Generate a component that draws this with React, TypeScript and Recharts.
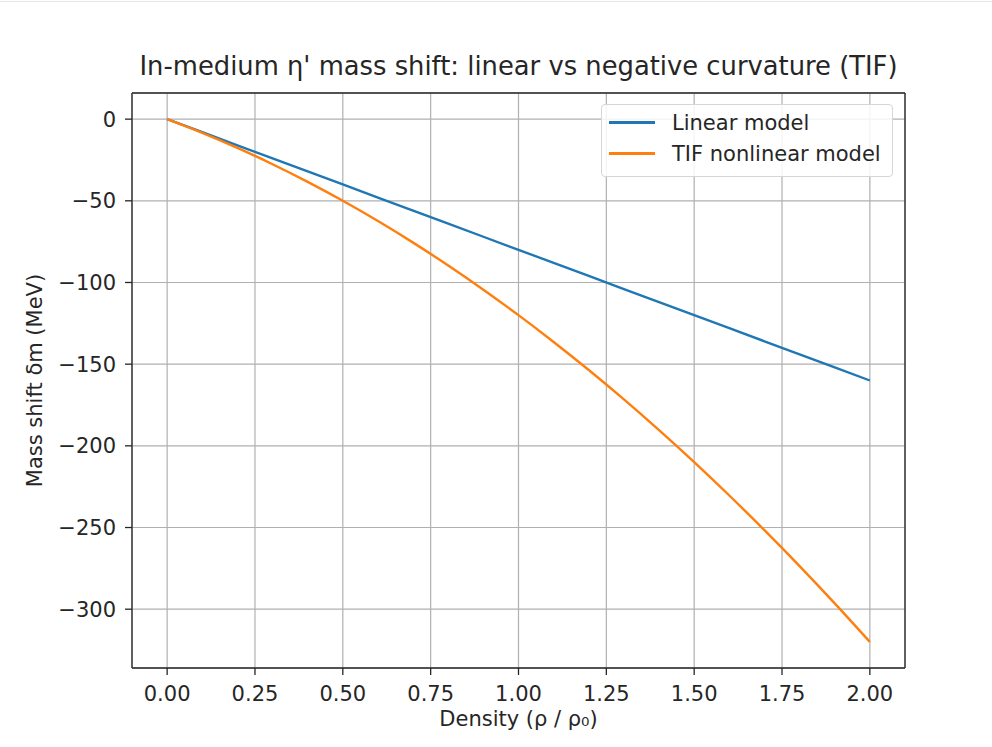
import React from "react";
import { LineChart, Line, XAxis, YAxis, CartesianGrid, Legend, ReferenceLine, Label } from "recharts";

const density = [0, 0.1, 0.2, 0.3, 0.4, 0.5, 0.6, 0.7, 0.8, 0.9, 1.0, 1.1, 1.2, 1.3, 1.4, 1.5, 1.6, 1.7, 1.8, 1.9, 2.0];
const linearShift = [0, -8, -16, -24, -32, -40, -48, -56, -64, -72, -80, -88, -96, -104, -112, -120, -128, -136, -144, -152, -160];
const tifShift = [0, -8.4, -17.6, -27.6, -38.4, -50, -62.4, -75.6, -89.6, -104.4, -120, -136.4, -153.6, -171.6, -190.4, -210, -230.4, -251.6, -273.6, -296.4, -320];

const xTicks = [0, 0.25, 0.5, 0.75, 1.0, 1.25, 1.5, 1.75, 2.0];
const yTicks = [-300, -250, -200, -150, -100, -50, 0];

const data = density.map((d, i) => ({ rho: d, linear: linearShift[i], tif: tifShift[i] }));

const FONT = "'DejaVu Sans', sans-serif";
const TICK = { fill: "#262626", fontSize: 21, fontFamily: FONT };

function LegendBox({ payload }: any) {
  return (
    <div
      style={{
        background: "rgba(255,255,255,0.85)",
        border: "1px solid #d6d6d6",
        borderRadius: 4,
        padding: "2px 10px 7px 7px",
        fontFamily: FONT,
        fontSize: 21,
        color: "#262626",
        boxSizing: "border-box",
      }}
    >
      {(payload || []).map((p: any) => (
        <div key={p.value} style={{ display: "flex", alignItems: "center", height: 31 }}>
          <span style={{ display: "inline-block", width: 46, height: 2.5, background: p.color, marginRight: 17 }} />
          <span>{p.value}</span>
        </div>
      ))}
    </div>
  );
}

export default function App() {
  return (
    <div style={{ position: "absolute", left: 0, top: 0, width: 992, height: 747, background: "#fff" }}>
      <div style={{ position: "absolute", left: 0, top: 1, width: 992, height: 1, background: "#e6e6e6" }} />
      <div
        style={{
          position: "absolute",
          left: 132,
          width: 773,
          top: 51,
          textAlign: "center",
          fontFamily: FONT,
          fontSize: 25.8,
          color: "#262626",
          whiteSpace: "nowrap",
        }}
      >
        In-medium η' mass shift: linear vs negative curvature (TIF)
      </div>
      <LineChart width={992} height={747} data={data} margin={{ top: 93, right: 87, left: 32, bottom: 39 }}>
        <CartesianGrid stroke="#b0b0b0" strokeWidth={1.2} />
        <XAxis
          dataKey="rho"
          type="number"
          domain={[-0.1, 2.1]}
          ticks={xTicks}
          allowDataOverflow
          tickFormatter={(v: number) => v.toFixed(2)}
          tick={TICK}
          tickSize={7}
          tickMargin={11}
          height={40}
          stroke="#262626"
          strokeWidth={1.3}
        >
          <Label
            content={({ viewBox }: any) => (
              <text
                x={viewBox.x + viewBox.width / 2}
                y={726}
                textAnchor="middle"
                fontFamily={FONT}
                fontSize={21}
                fill="#262626"
              >
                Density (ρ / ρ₀)
              </text>
            )}
          />
        </XAxis>
        <YAxis
          type="number"
          domain={[-336, 16]}
          ticks={yTicks}
          allowDataOverflow
          tickFormatter={(v: number) => (v < 0 ? "\u2212" + Math.abs(v) : String(v))}
          tick={TICK}
          tickSize={7}
          tickMargin={9}
          width={100}
          stroke="#262626"
          strokeWidth={1.3}
        >
          <Label
            content={({ viewBox }: any) => {
              const cy = viewBox.y + viewBox.height / 2;
              return (
                <text
                  x={42}
                  y={cy}
                  transform={`rotate(-90, 42, ${cy})`}
                  textAnchor="middle"
                  fontFamily={FONT}
                  fontSize={21}
                  fill="#262626"
                >
                  Mass shift δm (MeV)
                </text>
              );
            }}
          />
        </YAxis>
        <ReferenceLine x={2.1} stroke="#262626" strokeWidth={1.3} ifOverflow="extendDomain" />
        <ReferenceLine y={16} stroke="#262626" strokeWidth={1.3} ifOverflow="extendDomain" />
        <Legend
          layout="horizontal"
          verticalAlign="middle"
          align="center"
          content={<LegendBox />}
          wrapperStyle={{ position: "absolute", left: 601, top: 104, width: 292, right: "auto", bottom: "auto" }}
        />
        <Line
          type="linear"
          dataKey="linear"
          name="Linear model"
          stroke="#1f77b4"
          strokeWidth={2.4}
          dot={false}
          isAnimationActive={false}
        />
        <Line
          type="monotone"
          dataKey="tif"
          name="TIF nonlinear model"
          stroke="#ff7f0e"
          strokeWidth={2.4}
          dot={false}
          isAnimationActive={false}
        />
      </LineChart>
    </div>
  );
}
